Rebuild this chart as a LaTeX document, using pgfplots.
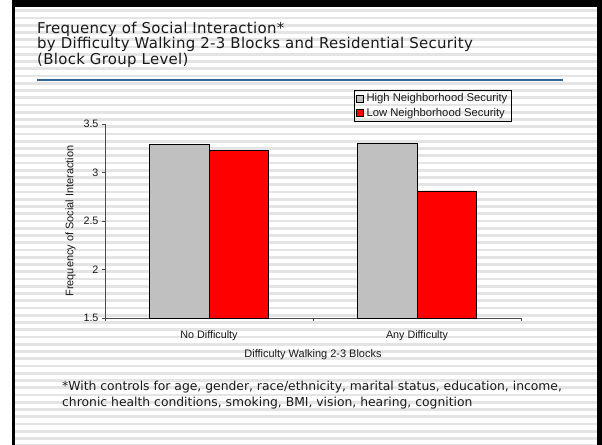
\documentclass[border=0pt]{standalone}
\usepackage{pgfplots}
\pgfplotsset{compat=1.18}
\usepackage{fontspec}
\setmainfont{Liberation Sans}
\newfontfamily\titlefont[LetterSpace=2]{DejaVu Sans}
\newfontfamily\notefont{DejaVu Sans}
\definecolor{barred}{RGB}{255,0,0}
\definecolor{bargray}{RGB}{192,192,192}
\definecolor{stripe}{RGB}{228,228,228}
\definecolor{titleblue}{RGB}{51,102,153}
\definecolor{txt}{RGB}{25,25,25}
\begin{document}
\begin{tikzpicture}
\useasboundingbox (0,0) rectangle (602bp,-445bp);
\fill[white] (0,0) rectangle (602bp,-445bp);
\fill[black] (12bp,0) rectangle (602bp,-445bp);
\fill[white] (15bp,-7bp) rectangle (597bp,-445bp);
\begin{scope}
\clip (15bp,-7bp) rectangle (597bp,-445bp);
\foreach \k in {0,...,61} {
  \fill[stripe] (15bp,{-(10.7+7.25*\k-1.4)*1bp}) rectangle (597bp,{-(10.7+7.25*\k+1.4)*1bp});
}
\end{scope}
\node[anchor=base west, inner sep=0, text=txt, font=\titlefont\fontsize{15}{17}\selectfont] at (37bp,-33bp) {Frequency of Social Interaction*};
\node[anchor=base west, inner sep=0, text=txt, font=\titlefont\fontsize{15}{17}\selectfont] at (37bp,-48.5bp) {by Difficulty Walking 2-3 Blocks and Residential Security};
\node[anchor=base west, inner sep=0, text=txt, font=\titlefont\fontsize{15}{17}\selectfont] at (37bp,-64bp) {(Block Group Level)};
\draw[titleblue, line width=2bp] (37bp,-80bp) -- (563bp,-80bp);
\begin{axis}[
  at={(105bp,-318bp)}, anchor=south west,
  width=416bp, height=194bp, scale only axis,
  xmin=-0.5, xmax=1.5, ymin=1.5, ymax=3.5,
  axis x line=bottom, axis y line=left,
  axis line style={-, draw=black!70, line width=0.8bp},
  tick align=outside, major tick length=3bp,
  tick style={draw=black!70, line width=0.8bp},
  ytick={1.5,2,2.5,3,3.5},
  xtick={-0.5,0.5,1.5}, xticklabels={,,},
  extra x ticks={0,1},
  extra x tick labels={No Difficulty,Any Difficulty},
  extra x tick style={major tick length=0pt},
  xticklabel style={yshift=-9bp},
  /pgf/number format/assume math mode=true,
  ticklabel style={font=\fontsize{10.8}{12}\selectfont, text=txt},
  label style={font=\fontsize{11}{13}\selectfont, text=txt},
  ylabel={Frequency of Social Interaction},
  ylabel style={at={(axis description cs:-0.083,0.5)}, anchor=center},
  xlabel={Difficulty Walking 2-3 Blocks},
  xlabel style={at={(axis description cs:0.5,-0.19)}, anchor=center},
  ybar=0pt, bar width=59.5bp,
  legend image code/.code={\path[draw=none, fill=none] (0bp,0bp) -- (8bp,0bp);\draw[#1, line width=0.6bp] (0bp,-3.5bp) rectangle (7bp,3.5bp);},
  legend style={at={(0.978,1.175)}, anchor=north east, draw=black, line width=0.8bp, fill=none,
    font=\fontsize{11.3}{13}\selectfont, text=txt, row sep=0pt, inner xsep=1.5bp, inner ysep=0.5bp,
    nodes={inner sep=2.6bp}},
  legend cell align=left,
]
\addplot[fill=bargray, draw=black, line width=0.8bp] coordinates {(0,3.29) (1,3.30)};
\addplot[fill=barred, draw=black, line width=0.8bp] coordinates {(0,3.23) (1,2.81)};
\legend{High Neighborhood Security, Low Neighborhood Security}
\end{axis}
\node[anchor=base west, inner sep=0, text=txt, font=\notefont\fontsize{12.4}{14}\selectfont] at (62bp,-390bp) {*With controls for age, gender, race/ethnicity, marital status, education, income,};
\node[anchor=base west, inner sep=0, text=txt, font=\notefont\fontsize{12.4}{14}\selectfont] at (62bp,-406.5bp) {chronic health conditions, smoking, BMI, vision, hearing, cognition};
\end{tikzpicture}
\end{document}
